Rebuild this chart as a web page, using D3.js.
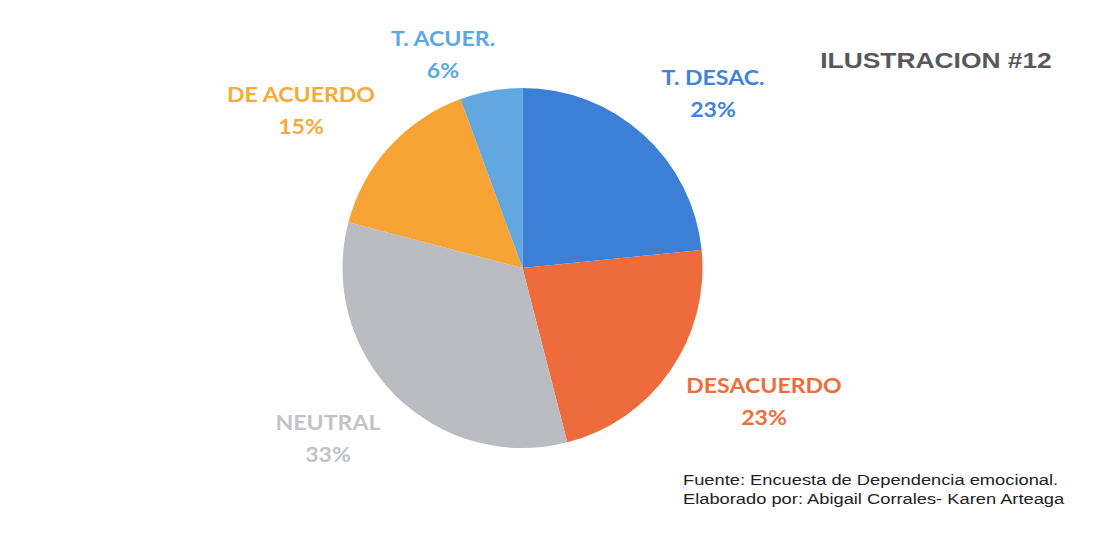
<!DOCTYPE html>
<html><head><meta charset="utf-8">
<script src="https://cdn.jsdelivr.net/npm/d3@7"></script>
<style>body{margin:0;background:#fff}svg{display:block}</style>
</head><body>
<svg id="c" width="1106" height="558"></svg>
<script>
const categories = ["T. DESAC.", "DESACUERDO", "NEUTRAL", "DE ACUERDO", "T. ACUER."];
const values = [23.4, 22.6, 33.1, 15.3, 5.6];
const pctLabels = ["23%", "23%", "33%", "15%", "6%"];
const sliceColors = ["#3b7fd7", "#ee6b3c", "#bbbbc2", "#f8a435", "#62a7e0"];
const labelColors = ["#3f84d8", "#ee6e3b", "#c2c2c9", "#f6aa3c", "#5ea8e1"];
const labelPos = [[713, 77], [764, 385], [328, 422], [301, 94], [443, 38]];

const svg = d3.select("#c");
const cx = 522.5, cy = 268, r = 180;
const pie = d3.pie().sort(null).value(d => d)(values);
const arc = d3.arc().innerRadius(0).outerRadius(r);
const g = svg.append("g").attr("transform", `translate(${cx},${cy})`);
g.selectAll("path").data(pie).join("path")
  .attr("d", arc).attr("fill", (d, i) => sliceColors[i]);

const lab = svg.append("g").attr("font-family", "Lato, 'Open Sans', sans-serif")
  .attr("font-weight", "bold").attr("font-size", 21).attr("text-anchor", "middle");
categories.forEach((c, i) => {
  const [x, y] = labelPos[i];
  const t = lab.append("g").attr("transform", `translate(${x},${y}) scale(1.1,1)`)
    .append("text").attr("fill", labelColors[i]);
  t.append("tspan").attr("x", 0).attr("y", 7.5).text(c);
  t.append("tspan").attr("x", 0).attr("y", 40.5).text(pctLabels[i]);
});

svg.append("g").attr("transform", "translate(936,68) scale(1.2,1)")
  .append("text").attr("text-anchor", "middle")
  .attr("font-family", "Liberation Sans, Arial, sans-serif").attr("font-weight", "bold")
  .attr("font-size", 22).attr("fill", "#58585c").text("ILUSTRACION #12");

const foot = svg.append("g").attr("transform", "translate(683,0) scale(1.22,1)")
  .attr("font-family", "Liberation Sans, Arial, sans-serif")
  .attr("font-size", 15).attr("fill", "#222");
foot.append("text").attr("x", 0).attr("y", 485).text("Fuente: Encuesta de Dependencia emocional.");
foot.append("text").attr("x", 0).attr("y", 504).text("Elaborado por: Abigail Corrales- Karen Arteaga");
</script>
</body></html>
